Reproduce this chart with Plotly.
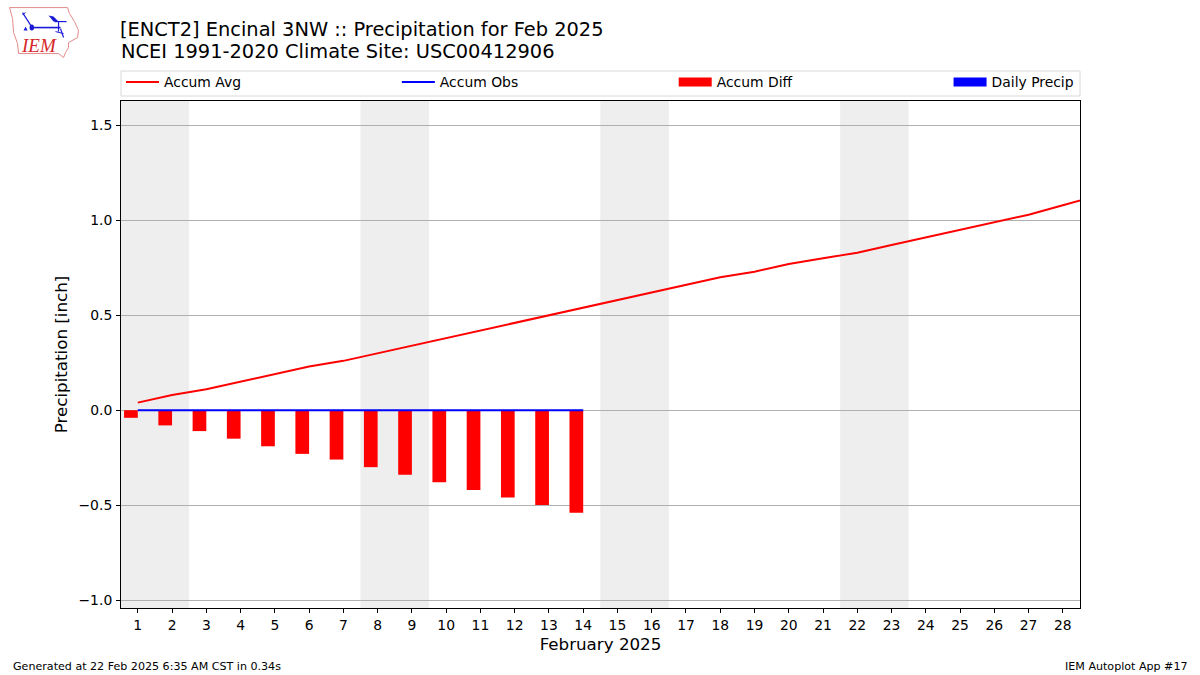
import plotly.graph_objects as go

days = list(range(1, 30))
accum_avg = [0.04, 0.08, 0.11, 0.15, 0.19, 0.23, 0.26, 0.30, 0.34, 0.38, 0.42, 0.46, 0.50, 0.54,
             0.58, 0.62, 0.66, 0.70, 0.73, 0.77, 0.80, 0.83, 0.87, 0.91, 0.95, 0.99, 1.03, 1.08, 1.13]
obs_days = list(range(1, 15))
accum_obs = [0.0] * 14
accum_diff = [-0.04, -0.08, -0.11, -0.15, -0.19, -0.23, -0.26, -0.30, -0.34, -0.38, -0.42, -0.46, -0.50, -0.54]
daily_precip = [0.0] * 14
weekend_spans = [(0.5, 2.5), (7.5, 9.5), (14.5, 16.5), (21.5, 23.5)]
tick_days = list(range(1, 29))

FONT = "DejaVu Sans"
L, R, T, B = 120.5, 1080.0, 100.5, 608.0
W, H = 1200, 675


def px(x):
    return (x - L) / (R - L)


def py(y):
    return (B - y) / (B - T)


def path(points, close=False):
    s = "M" + " L".join(f"{px(x):.5f},{py(y):.5f}" for x, y in points)
    return s + (" Z" if close else "")


fig = go.Figure()
fig.add_trace(go.Scatter(x=days, y=accum_avg, mode="lines", name="Accum Avg",
                         line=dict(color="#ff0000", width=2), legend="legend"))
fig.add_trace(go.Scatter(x=obs_days, y=accum_obs, mode="lines", name="Accum Obs",
                         line=dict(color="#0000ff", width=2), legend="legend2"))
fig.add_trace(go.Bar(x=obs_days, y=accum_diff, name="Accum Diff", marker=dict(color="#ff0000", line_width=0),
                     width=0.4, offset=-0.4, showlegend=False, legendgroup="diff"))
fig.add_trace(go.Bar(x=obs_days, y=daily_precip, name="Daily Precip", marker=dict(color="#0000ff", line_width=0),
                     width=0.4, offset=0, showlegend=False, legendgroup="daily"))
# Wide legend swatches for the two bar series
fig.add_trace(go.Scatter(x=[None], y=[None], mode="lines", name="Accum Diff", legend="legend3", legendgroup="diff",
                         line=dict(color="#ff0000", width=9), hoverinfo="skip"))
fig.add_trace(go.Scatter(x=[None], y=[None], mode="lines", name="Daily Precip", legend="legend4", legendgroup="daily",
                         line=dict(color="#0000ff", width=9), hoverinfo="skip"))

shapes = [dict(type="rect", xref="x", yref="paper", x0=a, x1=b, y0=0, y1=1, layer="below",
               fillcolor="#eeeeee", line_width=0) for a, b in weekend_spans]

# Legend frame
shapes.append(dict(type="rect", xref="paper", yref="paper", x0=px(120.5), x1=px(1080), y0=py(95.5), y1=py(70.5),
                   line=dict(color="#d8d8d8", width=1), fillcolor="white", layer="below"))

# Logo
iowa = [(9, 7), (67, 7), (69, 13), (74, 21), (78, 30), (77, 37), (68, 42), (68, 47), (65, 52), (63, 57),
        (58, 53), (18, 53), (17, 43), (13, 32), (12, 18)]
shapes.append(dict(type="path", xref="paper", yref="paper", path=path(iowa, True),
                   line=dict(color="#e58a8a", width=1), fillcolor="white"))
BLUE = "#1a1ad6"
for seg, w in [([(22, 12), (31, 26)], 1.2), ([(31, 27), (60, 27)], 1.6), ([(54, 21), (66, 21)], 1.2),
               ([(58, 21), (58, 31)], 1.2), ([(60, 28), (63, 37)], 1.2), ([(55, 31), (63, 33)], 1),
               ([(22, 14), (25, 12)], 1)]:
    shapes.append(dict(type="path", xref="paper", yref="paper", path=path(seg),
                       line=dict(color=BLUE, width=w)))
shapes.append(dict(type="path", xref="paper", yref="paper", path=path([(48, 15), (53, 16), (58, 21), (53, 21)], True),
                   fillcolor=BLUE, line_width=0))
shapes.append(dict(type="path", xref="paper", yref="paper", path=path([(25, 26), (27, 30), (23, 30)], True),
                   fillcolor=BLUE, line_width=0))
shapes.append(dict(type="circle", xref="paper", yref="paper", x0=px(29), x1=px(33.5), y0=py(30), y1=py(24),
                   fillcolor=BLUE, line_width=0))

annotations = [
    dict(text="<i>IEM</i>", xref="paper", yref="paper", x=px(18), y=py(45), xanchor="left", yanchor="middle",
         showarrow=False, font=dict(family="Liberation Serif", size=19, color="#d62728")),
    dict(text="NCEI 1991-2020 Climate Site: USC00412906", xref="paper", yref="paper", x=px(118), y=py(51),
         xanchor="left", yanchor="middle", showarrow=False, font=dict(family=FONT, size=19.4, color="black")),
    dict(text="Generated at 22 Feb 2025 6:35 AM CST in 0.34s", xref="paper", yref="paper", x=px(10), y=py(666.5),
         xanchor="left", yanchor="middle", showarrow=False, font=dict(family=FONT, size=11.1, color="black")),
    dict(text="IEM Autoplot App #17", xref="paper", yref="paper", x=px(1190), y=py(666.5),
         xanchor="right", yanchor="middle", showarrow=False, font=dict(family=FONT, size=11.1, color="black")),
]


def legend_at(x_px):
    return dict(x=px(x_px), y=py(82), xanchor="left", yanchor="middle", bgcolor="rgba(0,0,0,0)", borderwidth=0,
                font=dict(family=FONT, size=13.9), itemwidth=33)


fig.update_layout(
    width=W, height=H, autosize=False,
    margin=dict(l=L, r=W - R, t=T, b=H - B, pad=0),
    paper_bgcolor="white", plot_bgcolor="rgba(0,0,0,0)",
    font=dict(family=FONT, size=13.9, color="black"),
    title=dict(text="[ENCT2] Encinal 3NW :: Precipitation for Feb 2025",
               x=120 / W, xanchor="left", xref="container", y=1 - 29 / H, yanchor="middle",
               font=dict(family=FONT, size=19.4, color="black")),
    barmode="overlay",
    showlegend=True,
    legend=legend_at(120.5), legend2=legend_at(396.5), legend3=legend_at(673.5), legend4=legend_at(948.5),
    shapes=shapes, annotations=annotations,
    xaxis=dict(range=[0.51, 28.5], tickmode="array", tickvals=tick_days, ticktext=[str(d) for d in tick_days],
               showgrid=False, zeroline=False, showline=True, mirror=True, linecolor="black", linewidth=1,
               ticks="outside", ticklen=4, tickwidth=1, tickcolor="black", tickangle=0,
               title=dict(text="February 2025", font=dict(family=FONT, size=16.7), standoff=6),
               tickfont=dict(family=FONT, size=13.9)),
    yaxis=dict(range=[-1.042, 1.629], tick0=0, dtick=0.5, tickformat=".1f", showgrid=True, gridcolor="#b0b0b0",
               gridwidth=1, zeroline=False, showline=True, mirror=True, linecolor="black", linewidth=1,
               ticks="outside", ticklen=4, tickwidth=1, tickcolor="black", ticklabelstandoff=1,
               title=dict(text="Precipitation [inch]", font=dict(family=FONT, size=16.7), standoff=6),
               tickfont=dict(family=FONT, size=13.9)),
)

fig.write_html("out.html", config={"displayModeBar": False},
               post_script="document.body.style.margin='0';")
